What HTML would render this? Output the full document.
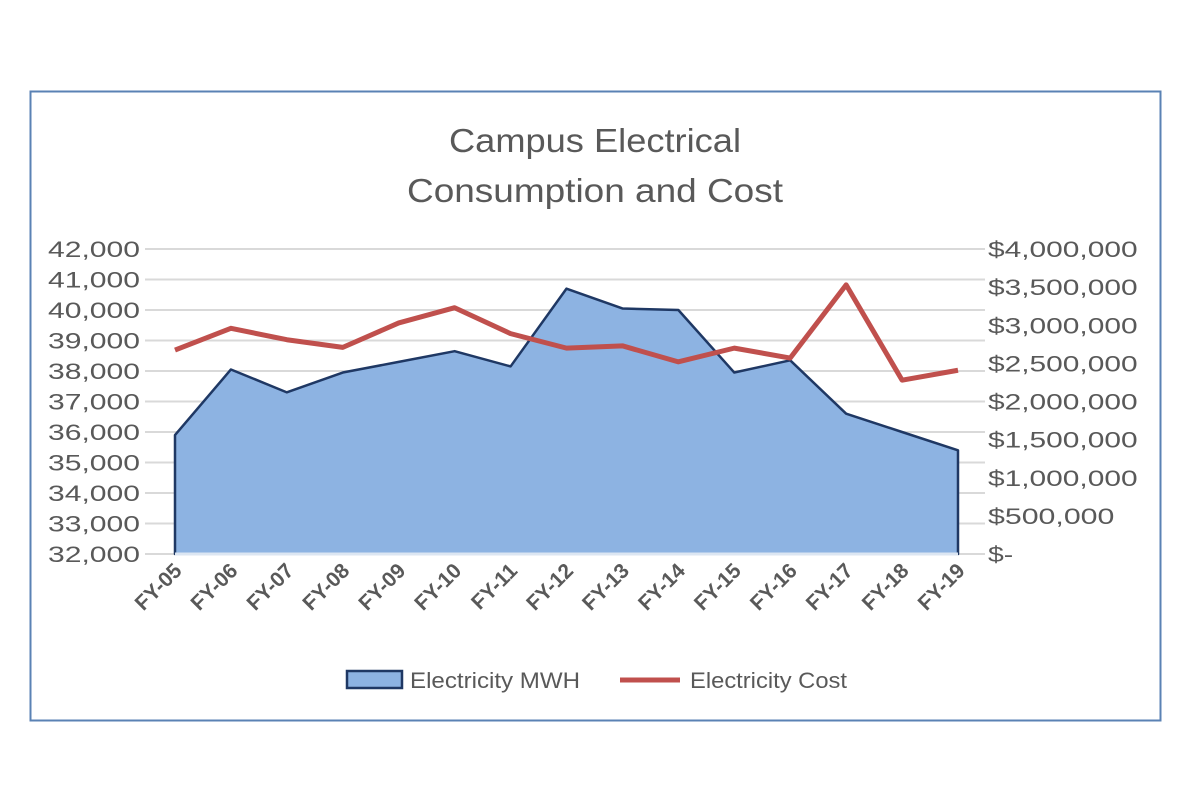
<!DOCTYPE html>
<html><head><meta charset="utf-8"><style>
body{margin:0;background:#fff;width:1200px;height:800px;overflow:hidden;font-family:"Liberation Sans",sans-serif}
</style></head><body>
<svg id="chart" width="1200" height="800" xmlns="http://www.w3.org/2000/svg">
<rect x="30.5" y="91.5" width="1130" height="629" fill="#fff" stroke="#5a82b4" stroke-width="2"/>
<text x="595" y="152" text-anchor="middle" font-size="33" fill="#595959" textLength="292" lengthAdjust="spacingAndGlyphs">Campus Electrical</text>
<text x="595" y="202" text-anchor="middle" font-size="33" fill="#595959" textLength="376" lengthAdjust="spacingAndGlyphs">Consumption and Cost</text>
<g id="grid"></g><g id="area"></g><g id="line"></g><g id="axes"></g>
<g>
<rect x="347" y="671" width="55" height="17" fill="#8db3e2" stroke="#1f3864" stroke-width="2.5"/>
<text x="410" y="688" font-size="22" fill="#595959" textLength="170" lengthAdjust="spacingAndGlyphs">Electricity MWH</text>
<line x1="620" y1="680" x2="680" y2="680" stroke="#c0504d" stroke-width="5"/>
<text x="690" y="688" font-size="22" fill="#595959" textLength="157" lengthAdjust="spacingAndGlyphs">Electricity Cost</text>
</g>
</svg>
<script>
const categories=["FY-05","FY-06","FY-07","FY-08","FY-09","FY-10","FY-11","FY-12","FY-13","FY-14","FY-15","FY-16","FY-17","FY-18","FY-19"];
const mwh=[35900,38050,37300,37950,38300,38650,38150,40700,40050,40000,37950,38350,36600,36000,35400];
const cost=[2675000,2960000,2810000,2710000,3030000,3230000,2890000,2700000,2730000,2520000,2700000,2570000,3530000,2280000,2410000];
const leftTicks=[32000,33000,34000,35000,36000,37000,38000,39000,40000,41000,42000];
const rightTicks=[0,500000,1000000,1500000,2000000,2500000,3000000,3500000,4000000];
const NS="http://www.w3.org/2000/svg";
const x0=175,x1=958,yTop=249,yBot=554;
const xs=i=>x0+(x1-x0)*i/(categories.length-1);
const yl=v=>yBot-(v-32000)/10000*(yBot-yTop);
const yr=v=>yBot-v/4000000*(yBot-yTop);
function mk(tag,attrs,parent){const e=document.createElementNS(NS,tag);for(const k in attrs)e.setAttribute(k,attrs[k]);document.getElementById(parent).appendChild(e);return e;}
function w(s){let n=0;for(const ch of s)n+=(ch===','?6:(ch==='-'?8:17.2));return n;}
leftTicks.forEach(v=>{
 const g=mk('line',{x1:145,x2:985,y1:yl(v),y2:yl(v),stroke:'#d9d9d9','stroke-width':2},'grid');
 
 
 const s=v.toLocaleString('en-US');
 const t=mk('text',{x:140,y:yl(v)+8,'text-anchor':'end','font-size':22,fill:'#595959',textLength:w(s),lengthAdjust:'spacingAndGlyphs'},'axes');
 t.textContent=s;
 
 
});
rightTicks.forEach(v=>{
 const s=v===0?'$-':'$'+v.toLocaleString('en-US');
 const t=mk('text',{x:988,y:yr(v)+8,'font-size':22,fill:'#595959',textLength:w(s),lengthAdjust:'spacingAndGlyphs'},'axes');
 t.textContent=s;
 
 
});
let d='M'+xs(0)+','+yBot;
mwh.forEach((v,i)=>{d+=' L'+xs(i)+','+yl(v);});
d+=' L'+xs(mwh.length-1)+','+yBot+' Z';
const a=mk('path',{d:d,fill:'#8db3e2',stroke:'#1f3864','stroke-width':2.5,'stroke-linejoin':'round'},'area');


const bl=mk('line',{x1:xs(0),x2:xs(mwh.length-1),y1:yBot,y2:yBot,stroke:'#dce6f2','stroke-width':3},'area');


const l=mk('polyline',{points:cost.map((v,i)=>xs(i)+','+yr(v)).join(' '),fill:'none',stroke:'#c0504d','stroke-width':5,'stroke-linejoin':'round'},'line');


categories.forEach((c,i)=>{
 const t=mk('text',{x:xs(i)+8,y:572,'text-anchor':'end','font-size':21,'font-weight':'bold',fill:'#595959',transform:'rotate(-45 '+(xs(i)+8)+' 572)'},'axes');
 t.textContent=c;
 
 
});
</script>
</body></html>
